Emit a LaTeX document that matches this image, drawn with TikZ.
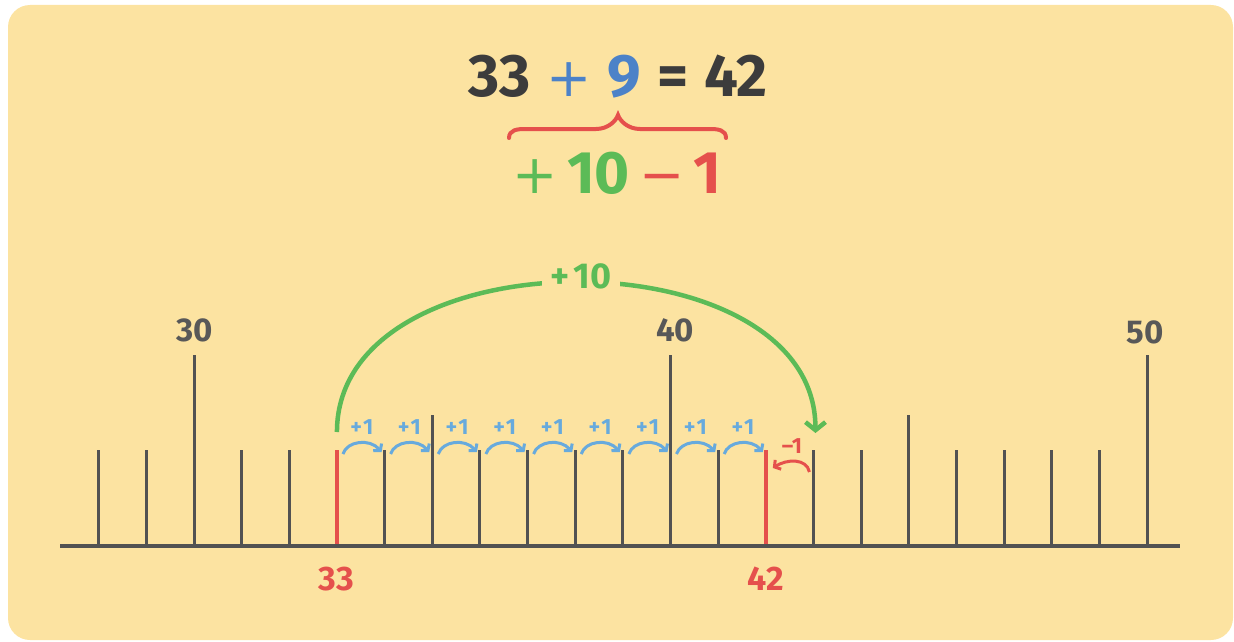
\documentclass[tikz,border=0pt]{standalone}
\usepackage{fontspec}
\setmainfont{Fira Sans}
\newfontfamily\symfont{DejaVu Sans}
\usetikzlibrary{arrows.meta,calc}
\definecolor{bgc}{HTML}{FCE3A1}
\definecolor{darktxt}{HTML}{3C3C3C}
\definecolor{graytick}{HTML}{525252}
\definecolor{graytxt}{HTML}{585858}
\definecolor{blueq}{HTML}{4C82C8}
\definecolor{lightblue}{HTML}{67AADD}
\definecolor{greenq}{HTML}{5CBB57}
\definecolor{redq}{HTML}{E5504C}
\newcommand{\thinsym}[1]{{\symfont\mdseries\fontsize{54}{60}\selectfont #1}}
\begin{document}
\begin{tikzpicture}[x=1pt,y=-1pt,
  tick/.style={draw=graytick,line width=3pt},
  redtick/.style={draw=redq,line width=3.5pt},
  axisline/.style={draw=graytick,line width=4pt},
  ticklabel/.style={text=graytxt,font=\fontsize{33}{36}\selectfont\bfseries,inner sep=0pt},
  redlabel/.style={text=redq,font=\fontsize{34}{36}\selectfont\bfseries,inner sep=0pt},
  eqtext/.style={font=\fontsize{60}{66}\selectfont,inner sep=0pt},
  plusone/.style={text=lightblue,font=\fontsize{22}{24}\selectfont\bfseries,inner sep=0pt},
  bluearrow/.style={draw=lightblue,line width=3pt,-{Straight Barb[length=4.5pt,width=11pt]}},
  greenarc/.style={draw=greenq,line width=4.5pt,-{Straight Barb[length=8pt,width=20pt]}},
  redarrow/.style={draw=redq,line width=3pt,-{Straight Barb[length=4.5pt,width=11pt]}},
  bracestyle/.style={draw=redq,line width=4pt,line cap=round}
]
\useasboundingbox (0,0) rectangle (1234,642);
\fill[bgc,rounded corners=22pt] (8,5) rectangle (1233,640);

% tick coordinates
\foreach \n in {28,...,50}{
  \pgfmathsetmacro\xx{194+(\n-30)*47.65}
  \pgfmathtruncatemacro\m{mod(\n,10)}
  \ifnum\m=0 \def\toppos{355}\else\ifnum\m=5 \def\toppos{415}\else\def\toppos{450}\fi\fi
  \coordinate (b\n) at (\xx,546);
  \coordinate (t\n) at (\xx,\toppos);
}
\coordinate (axL) at (60,546);
\coordinate (axR) at (1180,546);

% ticks
\foreach \n in {28,29,30,31,32,34,35,36,37,38,39,40,41,43,44,45,46,47,48,49,50}{
  \draw[tick] (b\n) -- (t\n);
}
\draw[redtick] (b33) -- (t33);
\draw[redtick] (b42) -- (t42);
\draw[axisline] (axL) -- (axR);

% labels
\node[ticklabel] (l30) at (195,330) {30};
\node[ticklabel] (l40) at (675,330) {40};
\node[ticklabel] (l50) at (1145,332) {50};
\node[redlabel] (l33) at (336,579) {33};
\node[redlabel] (l42) at (766,579) {42};

% +1 arrows
\foreach \n [evaluate=\n as \k using int(\n+1)] in {33,...,41}{
  \draw[bluearrow] ($(b\n)+(6,-92)$) .. controls +(4,-13) and +(-12,-14) .. ($(b\k)+(-3,-94)$);
  \node[plusone] (p\n) at ($(b\n)!0.5!(b\k)+(1,-119)$) {+\kern1pt1};
}

% +10 arc
\coordinate (gs) at ($(b33)+(0,-114)$);
\coordinate (ge) at ($(b43)+(2,-113)$);
\draw[greenarc] (gs) .. controls +(0,-200) and +(0,-200) .. (ge);
\node[fill=bgc,text=greenq,font=\fontsize{36}{38}\selectfont\bfseries,inner xsep=9pt,inner ysep=2pt] (ten) at (581,276) {+\kern4pt10};

% -1 arrow
\draw[redarrow] ($(b43)+(-4,-74)$) .. controls +(-3,-14) and +(14,-9) .. ($(b42)+(7,-78)$);
\node[text=redq,font=\fontsize{22}{24}\selectfont\bfseries,inner sep=0pt] (m1) at (792,446) {–1};

% equation
\node[eqtext] (eq) at (618,77) {\textcolor{darktxt}{\bfseries 33} \textcolor{blueq}{\thinsym{+}} \textcolor{blueq}{\bfseries 9} \textcolor{darktxt}{\bfseries =} \textcolor{darktxt}{\bfseries 42}};
\node[eqtext] (dec) at (617,173) {\textcolor{greenq}{\thinsym{+}}\hspace{9pt}\textcolor{greenq}{\bfseries 10}\hspace{9pt}\textcolor{redq}{\thinsym{−}}\hspace{9pt}\textcolor{redq}{\bfseries 1}};

% brace
\coordinate (brL) at (509,138);
\coordinate (brR) at (726,138);
\coordinate (brT) at (618,115);
\draw[bracestyle] (brL) .. controls +(0,-8) and +(-8,0) .. (525,129) -- (596,129)
  .. controls +(12,0) and +(-2,6) .. (brT)
  .. controls +(2,6) and +(-12,0) .. (640,129) -- (710,129)
  .. controls +(8,0) and +(0,-8) .. (brR);
\end{tikzpicture}
\end{document}
